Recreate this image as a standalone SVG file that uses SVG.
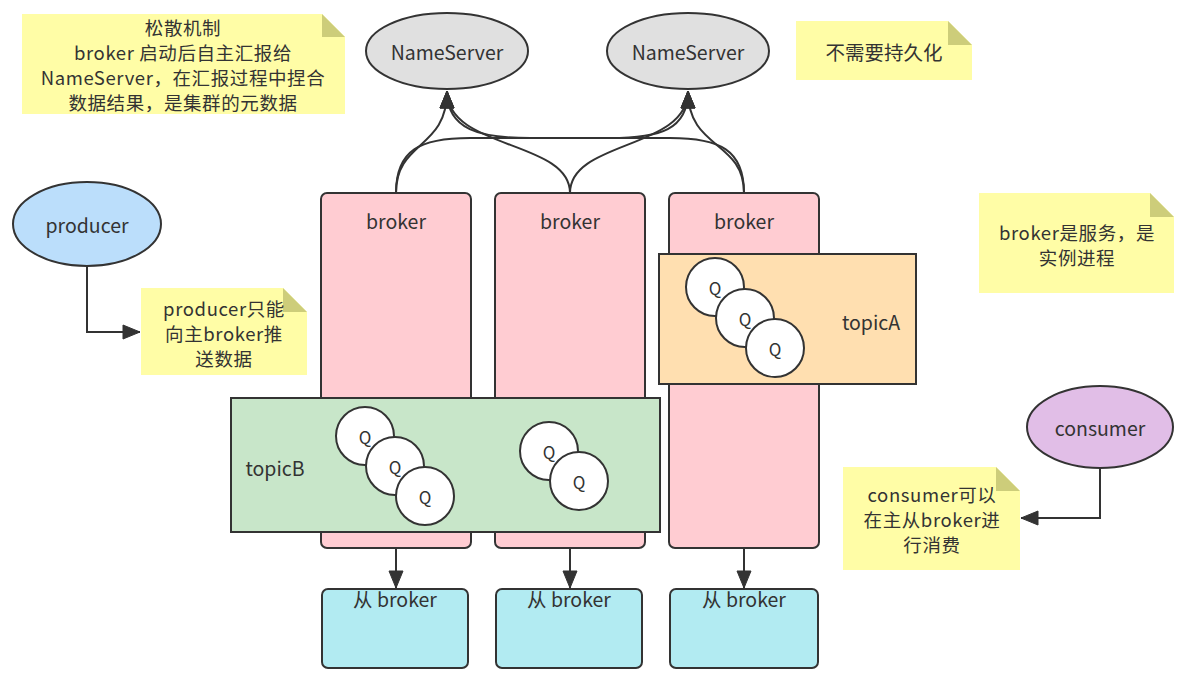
<svg xmlns="http://www.w3.org/2000/svg" width="1197" height="675" viewBox="0 0 1197 675">
<style>
text{font-family:"Noto Sans CJK SC","Noto Sans",sans-serif;font-size:19.5px;fill:#333;text-anchor:middle;dominant-baseline:central}
.ml{font-size:18.5px;letter-spacing:0.6px}
.q{font-size:17px}
.node{stroke:#333;stroke-width:2}
.broker{fill:#ffccd2}
.slave{fill:#b2ebf2}
.ns{fill:#e0e0e0}
.qc{fill:#fff}
.note{fill:#fffda6}
.fold{fill:#cdcd7a}
.edge{fill:none;stroke:#333;stroke-width:2}
</style>
<defs>
<marker id="arr" markerUnits="userSpaceOnUse" markerWidth="20" markerHeight="16" viewBox="-1 -1 20 16" refX="17" refY="7" orient="auto">
<path d="M0,0 L17,7 L0,14 Z" fill="#333" stroke="#333" stroke-width="1"/>
</marker>
</defs>
<rect width="1197" height="675" fill="#fff"/>

<g id="note-loose">
<path class="note" d="M22,14 L322,14 L345,37 L345,114 L22,114 Z"/>
<path class="fold" d="M322,14 L345,37 L322,37 Z"/>
<text class="ml" x="183" y="27">松散机制</text>
<text class="ml" x="183" y="52">broker 启动后自主汇报给</text>
<text class="ml" x="183" y="77">NameServer，在汇报过程中捏合</text>
<text class="ml" x="183" y="102">数据结果，是集群的元数据</text>
</g>

<g id="note-persist">
<path class="note" d="M796,21 L948,21 L972,45 L972,80 L796,80 Z"/>
<path class="fold" d="M948,21 L972,45 L948,45 Z"/>
<text x="884" y="51">不需要持久化</text>
</g>

<g id="note-broker">
<path class="note" d="M979,193 L1150,193 L1174,217 L1174,293 L979,293 Z"/>
<path class="fold" d="M1150,193 L1174,217 L1150,217 Z"/>
<text class="ml" x="1077" y="232">broker是服务，是</text>
<text class="ml" x="1077" y="257">实例进程</text>
</g>

<g id="note-producer">
<path class="note" d="M141,288 L283,288 L307,312 L307,375 L141,375 Z"/>
<path class="fold" d="M283,288 L307,312 L283,312 Z"/>
<text class="ml" x="224" y="308">producer只能</text>
<text class="ml" x="224" y="333">向主broker推</text>
<text class="ml" x="224" y="358">送数据</text>
</g>

<g id="note-consumer">
<path class="note" d="M843,467 L996,467 L1020,491 L1020,570 L843,570 Z"/>
<path class="fold" d="M996,467 L1020,491 L996,491 Z"/>
<text class="ml" x="932" y="494">consumer可以</text>
<text class="ml" x="932" y="519">在主从broker进</text>
<text class="ml" x="932" y="544">行消费</text>
</g>

<g id="nameserver1">
<ellipse class="node ns" cx="447" cy="51" rx="81" ry="38"/>
<text x="447" y="51">NameServer</text>
</g>
<g id="nameserver2">
<ellipse class="node ns" cx="688" cy="51" rx="81" ry="38"/>
<text x="688" y="51">NameServer</text>
</g>

<g id="producer">
<ellipse class="node" fill="#bbdefb" cx="87" cy="224" rx="74" ry="42"/>
<text x="87" y="224">producer</text>
</g>

<g id="consumer">
<ellipse class="node" fill="#e1bee7" cx="1100" cy="427" rx="73" ry="41"/>
<text x="1100" y="427">consumer</text>
</g>

<g id="broker1">
<rect class="node broker" x="321" y="193" width="150" height="355" rx="6"/>
<text x="396" y="220">broker</text>
</g>
<g id="broker2">
<rect class="node broker" x="495" y="193" width="150" height="355" rx="6"/>
<text x="570" y="220">broker</text>
</g>
<g id="broker3">
<rect class="node broker" x="669" y="193" width="150" height="355" rx="6"/>
<text x="744" y="220">broker</text>
</g>

<g id="topicA">
<rect class="node" fill="#ffdfb0" x="659" y="254" width="257" height="130"/>
<text x="871" y="321">topicA</text>
<circle class="node qc" cx="715" cy="287" r="29"/>
<text class="q" x="715" y="287">Q</text>
<circle class="node qc" cx="745" cy="318" r="29"/>
<text class="q" x="745" y="318">Q</text>
<circle class="node qc" cx="775" cy="348" r="29"/>
<text class="q" x="775" y="348">Q</text>
</g>

<g id="topicB">
<rect class="node" fill="#c8e6c9" x="231" y="398" width="429" height="134"/>
<text x="275" y="467">topicB</text>
<circle class="node qc" cx="365" cy="436" r="29"/>
<text class="q" x="365" y="436">Q</text>
<circle class="node qc" cx="395" cy="466" r="29"/>
<text class="q" x="395" y="466">Q</text>
<circle class="node qc" cx="425" cy="496" r="29"/>
<text class="q" x="425" y="496">Q</text>
<circle class="node qc" cx="549" cy="451" r="29"/>
<text class="q" x="549" y="451">Q</text>
<circle class="node qc" cx="579" cy="481" r="29"/>
<text class="q" x="579" y="481">Q</text>
</g>

<g id="slave1">
<rect class="node slave" x="322" y="589" width="146" height="79" rx="6"/>
<text x="395" y="598">从 broker</text>
</g>
<g id="slave2">
<rect class="node slave" x="496" y="589" width="146" height="79" rx="6"/>
<text x="569" y="598">从 broker</text>
</g>
<g id="slave3">
<rect class="node slave" x="670" y="589" width="148" height="79" rx="6"/>
<text x="744" y="598">从 broker</text>
</g>

<g id="connectors">
<path class="edge" marker-end="url(#arr)" d="M396,193 C396,140 447,150 447,91"/>
<path class="edge" marker-end="url(#arr)" d="M570,193 C570,140 447,150 447,91"/>
<path class="edge" marker-end="url(#arr)" d="M570,193 C570,140 688,150 688,91"/>
<path class="edge" marker-end="url(#arr)" d="M744,193 C744,140 688,150 688,91"/>
<path class="edge" marker-end="url(#arr)" d="M396,193 C396,150 420,138 470,138 L610,138 C660,138 688,130 688,91"/>
<path class="edge" marker-end="url(#arr)" d="M744,193 C744,150 720,138 670,138 L530,138 C480,138 447,130 447,91"/>
<path class="edge" marker-end="url(#arr)" d="M396,549 L396,588"/>
<path class="edge" marker-end="url(#arr)" d="M570,549 L570,588"/>
<path class="edge" marker-end="url(#arr)" d="M744,549 L744,588"/>
<path class="edge" marker-end="url(#arr)" d="M87,266 L87,332 L140,332"/>
<path class="edge" marker-end="url(#arr)" d="M1100,468 L1100,518 L1021,518"/>
</g>
</svg>
